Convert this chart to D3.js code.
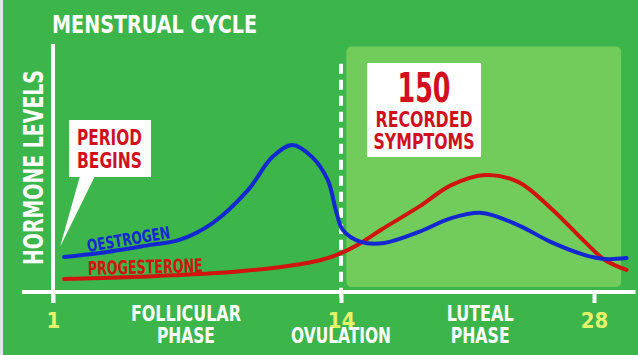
<!DOCTYPE html>
<html><head><meta charset="utf-8">
<script src="https://cdn.jsdelivr.net/npm/d3@7"></script>
<style>html,body{margin:0;padding:0;background:#3cb54a;overflow:hidden}svg{display:block}</style>
</head><body>
<svg id="c" width="638" height="355"></svg>
<script>
// ---- data ----
const title = "MENSTRUAL CYCLE";
const yLabel = "HORMONE LEVELS";
const tickDays = [1, 14, 28];
const ovulationDay = 14;
const lutealDays = [14.3, 29.5];
const lutealLevels = [2, 99];
const axisDays = [-0.4, 30.3];
const oestrogenDays   = [1.5, 3.1, 5.4, 6.7, 8.2, 9.8, 10.9, 11.8, 12.7, 13.4, 13.8, 14.1, 15.1, 16.4, 18.3, 20.1, 21.8, 23.8, 25.6, 27.5, 28.6, 29.8];
const oestrogenLevels = [14.1, 15.7, 19.0, 21.0, 27.8, 41.1, 54.4, 59.3, 54.4, 45.2, 31.9, 25.0, 20.2, 19.8, 24.2, 29.8, 31.9, 27.0, 20.2, 14.9, 13.3, 13.7];
const progesteroneDays   = [1.5, 4.6, 6.7, 9.1, 11.3, 13.1, 14.0, 15.1, 16.2, 18.3, 20.1, 22.0, 23.8, 25.6, 27.5, 28.6, 29.8];
const progesteroneLevels = [5.2, 6.0, 6.9, 8.1, 10.1, 12.9, 15.7, 19.8, 25.0, 34.3, 43.1, 47.2, 44.4, 33.9, 20.2, 12.9, 8.9];
const phaseLabels = [
  {lines: ["FOLLICULAR", "PHASE"], day: 7.0, widths: [110, 58]},
  {lines: ["OVULATION"], day: 14, widths: [100], second: true},
  {lines: ["LUTEAL", "PHASE"], day: 21.7, widths: [67, 59]}
];
const calloutPeriod = ["PERIOD", "BEGINS"];
const calloutSymptoms = ["150", "RECORDED", "SYMPTOMS"];

// ---- setup ----
const svg = d3.select("#c");
const FONT = "'Liberation Sans Narrow','DejaVu Sans Condensed','Roboto',sans-serif";
const WHITE = "#ffffff", BLUE = "#1428d2", RED = "#d0140f", YEL = "#e6f46c", RED_T = "#d0101e";

const x = d3.scaleLinear().domain([1, 14, 28]).range([53, 341, 594]);
const y = d3.scaleLinear().domain([0, 100]).range([292, 44]);

svg.append("rect").attr("x", 0).attr("y", 0).attr("width", 638).attr("height", 355).attr("fill", "#3cb54a");
svg.append("rect").attr("x", 0).attr("y", 0).attr("width", 3).attr("height", 355).attr("fill", "#dfe8e2");

// luteal box
svg.append("rect")
  .attr("x", x(lutealDays[0])).attr("y", y(lutealLevels[1]))
  .attr("width", x(lutealDays[1]) - x(lutealDays[0]))
  .attr("height", y(lutealLevels[0]) - y(lutealLevels[1]))
  .attr("rx", 5).attr("fill", "#72cc5b");

// title
svg.append("text").attr("x", 52).attr("y", 33).text(title)
  .attr("font-family", FONT).attr("font-weight", "bold").attr("font-size", 25)
  .attr("fill", WHITE).attr("textLength", 205).attr("lengthAdjust", "spacingAndGlyphs");

// y label
svg.append("text").attr("transform", "translate(43,265) rotate(-90)").text(yLabel)
  .attr("font-family", FONT).attr("font-weight", "bold").attr("font-size", 27)
  .attr("fill", WHITE).attr("textLength", 195).attr("lengthAdjust", "spacingAndGlyphs");

// axes
svg.append("line").attr("x1", x(axisDays[0])).attr("x2", x(axisDays[1]))
  .attr("y1", y(0)).attr("y2", y(0)).attr("stroke", WHITE).attr("stroke-width", 4);
svg.append("line").attr("x1", x(1)).attr("x2", x(1))
  .attr("y1", y(100)).attr("y2", y(0) + 11).attr("stroke", WHITE).attr("stroke-width", 4);

const ax = svg.append("g").attr("transform", `translate(0,${y(0)})`)
  .call(d3.axisBottom(x).tickValues(tickDays).tickSize(11).tickPadding(9).tickFormat(d3.format("d")));
ax.select(".domain").remove();
ax.selectAll(".tick line").attr("stroke", WHITE).attr("stroke-width", 4);
ax.selectAll(".tick text").attr("fill", YEL).attr("font-family", FONT).attr("font-weight", "bold")
  .attr("font-size", 22).attr("dy", "0.71em");

// ovulation dashed line
svg.append("line").attr("x1", x(ovulationDay)).attr("x2", x(ovulationDay))
  .attr("y1", y(92)).attr("y2", y(0) + 9)
  .attr("stroke", WHITE).attr("stroke-width", 4).attr("stroke-dasharray", "10,6");

// curves
const line = d3.line().x(d => x(d[0])).y(d => y(d[1])).curve(d3.curveCatmullRom.alpha(0.5));
svg.append("path").datum(d3.zip(progesteroneDays, progesteroneLevels)).attr("d", line)
  .attr("fill", "none").attr("stroke", RED).attr("stroke-width", 4).attr("stroke-linecap", "round");
svg.append("path").datum(d3.zip(oestrogenDays, oestrogenLevels)).attr("d", line)
  .attr("fill", "none").attr("stroke", BLUE).attr("stroke-width", 4).attr("stroke-linecap", "round");

// series labels
svg.append("text").attr("transform", "translate(88,252) rotate(-9.5)").text("OESTROGEN")
  .attr("font-family", FONT).attr("font-weight", "bold").attr("font-size", 17).attr("fill", BLUE)
  .attr("textLength", 84).attr("lengthAdjust", "spacingAndGlyphs");
svg.append("text").attr("transform", "translate(88,275) rotate(-1.5)").text("PROGESTERONE")
  .attr("font-family", FONT).attr("font-weight", "bold").attr("font-size", 19).attr("fill", RED)
  .attr("textLength", 115).attr("lengthAdjust", "spacingAndGlyphs");

// phase labels
phaseLabels.forEach(p => {
  p.lines.forEach((t, i) => {
    const row = p.second ? 1 : i;
    svg.append("text").attr("x", x(p.day)).attr("y", row === 0 ? 321 : 343).text(t)
      .attr("text-anchor", "middle").attr("font-family", FONT).attr("font-weight", "bold")
      .attr("font-size", 22).attr("fill", WHITE)
      .attr("textLength", p.widths[i]).attr("lengthAdjust", "spacingAndGlyphs");
  });
});

// period begins callout
svg.append("path").attr("d", "M80,176 L95,176 L60,247 Z").attr("fill", WHITE);
svg.append("rect").attr("x", 69).attr("y", 120).attr("width", 82).attr("height", 57).attr("fill", WHITE);
calloutPeriod.forEach((t, i) => {
  svg.append("text").attr("x", 77).attr("y", i === 0 ? 145 : 168).text(t)
    .attr("font-family", FONT).attr("font-weight", "bold").attr("font-size", 21).attr("fill", RED_T)
    .attr("textLength", 65).attr("lengthAdjust", "spacingAndGlyphs");
});

// symptoms callout
svg.append("rect").attr("x", 367).attr("y", 63).attr("width", 114).attr("height", 94).attr("fill", WHITE);
const sy = [{y: 102, fs: 41, w: 53}, {y: 127, fs: 21, w: 97}, {y: 149, fs: 22, w: 101}];
calloutSymptoms.forEach((t, i) => {
  svg.append("text").attr("x", 424).attr("y", sy[i].y).text(t).attr("text-anchor", "middle")
    .attr("font-family", FONT).attr("font-weight", "bold").attr("font-size", sy[i].fs).attr("fill", RED_T)
    .attr("textLength", sy[i].w).attr("lengthAdjust", "spacingAndGlyphs");
});
</script>
</body></html>
